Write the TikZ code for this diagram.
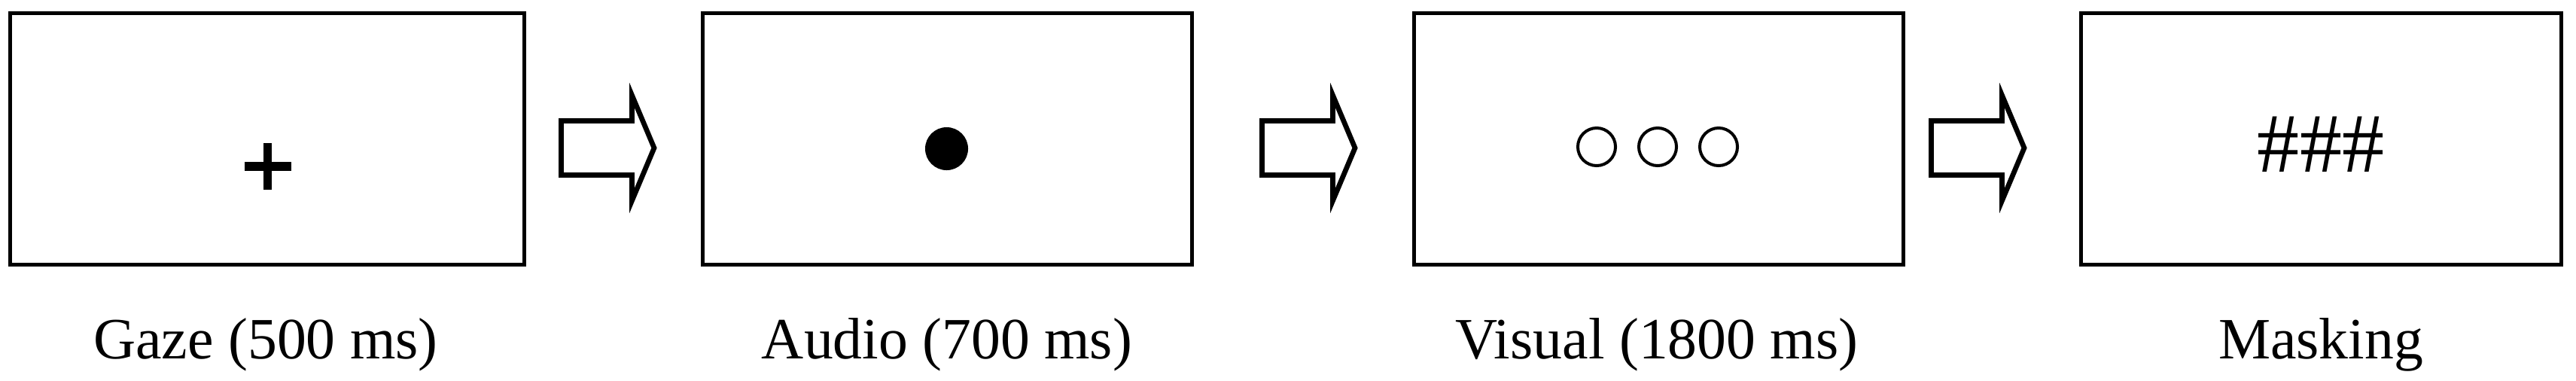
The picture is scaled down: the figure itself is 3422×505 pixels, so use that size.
\documentclass[tikz,border=0pt]{standalone}
\usepackage{fontspec}
\setmainfont{Liberation Serif}
\begin{document}
\begin{tikzpicture}[x=0.01cm,y=-0.01cm,
  screen/.style={draw, line width=0.05cm, minimum height=3.34cm, inner sep=0pt, outer sep=0pt},
  blk/.style={draw, line width=0.067cm, line join=miter, fill=white},
  ring/.style={draw, line width=0.04cm, circle, minimum size=0.5cm, inner sep=0pt},
  lbl/.style={anchor=base, inner sep=0pt, font=\fontsize{22.1pt}{26pt}\selectfont},
  blockarrow/.pic={\draw[blk] (0,-36) -- (94,-36) -- (94,-70) -- (123.5,0) -- (94,70) -- (94,36) -- (0,36) -- cycle;}
]
\useasboundingbox (0,0) rectangle (3422,505);
% screens
\node[screen, minimum width=6.83cm] (gaze) at (355,184.5) {};
\node[screen, minimum width=6.49cm] (audio) at (1258.5,184.5) {};
\node[screen, minimum width=6.49cm] (visual) at (2203.5,184.5) {};
\node[screen, minimum width=6.38cm] (mask) at (3083.5,184.5) {};
% fixation cross
\fill (324.5,215.2) rectangle (386.5,226.8);
\fill (349.7,190) rectangle (361.3,252);
% audio dot
\node[circle, fill, minimum size=0.57cm, inner sep=0pt] (dot) at (1257.5,197.5) {};
% visual circles
\node[ring] (c1) at (2121,195) {};
\node[ring] (c2) at (2202,195) {};
\node[ring] (c3) at (2283,195) {};
% mask
\node[anchor=base, inner sep=0pt, font=\fontsize{31.9pt}{36pt}\selectfont] (hash) at (3083,228) {\#\#\#};
% block arrows
\pic at (745.5,196.5) {blockarrow};
\pic at (1676.5,196.5) {blockarrow};
\pic at (2565.5,196.5) {blockarrow};
% labels
\node[lbl] (lg) at (353,476) {Gaze (500 ms)};
\node[lbl] (la) at (1258,476) {Audio (700 ms)};
\node[lbl] (lv) at (2201,476) {Visual (1800 ms)};
\node[lbl] (lm) at (3083,476) {Masking};
\end{tikzpicture}
\end{document}
